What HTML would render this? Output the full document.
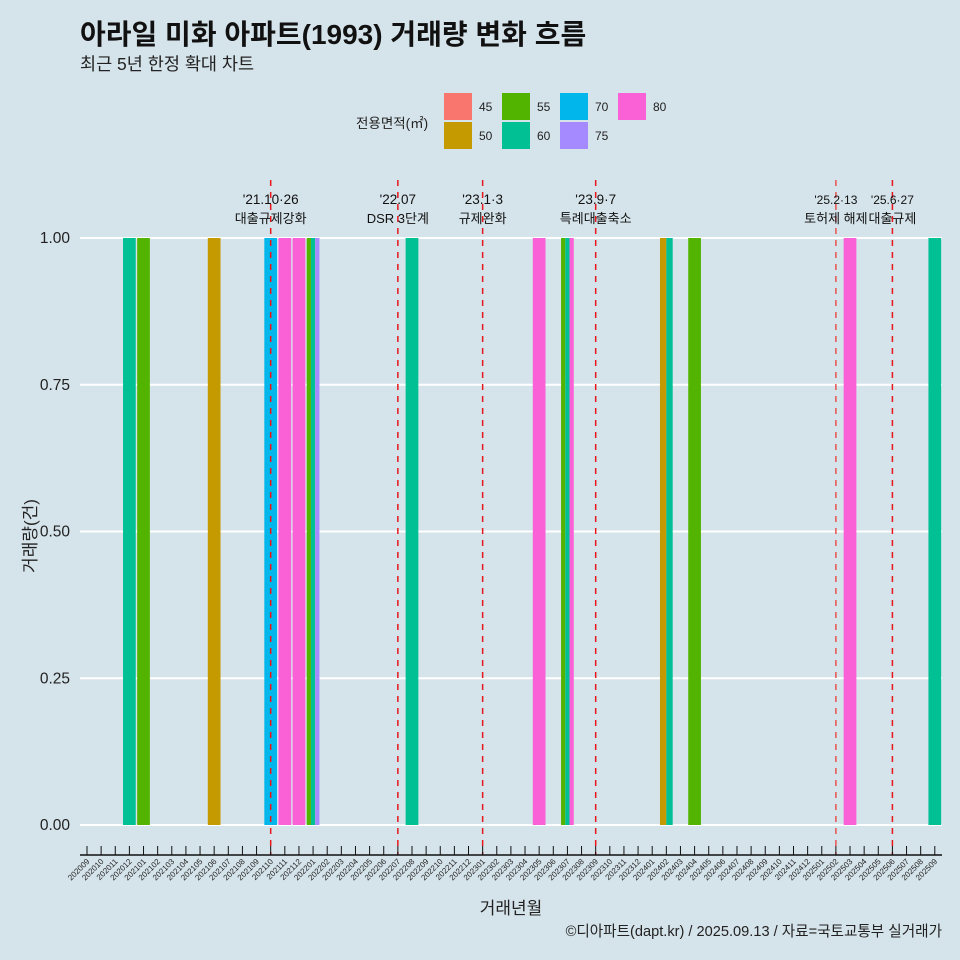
<!DOCTYPE html>
<html><head><meta charset="utf-8"><style>
body{margin:0;background:#d5e3ea;}
svg{display:block;font-family:"Liberation Sans","Noto Sans CJK KR",sans-serif;}
</style></head><body>
<svg id="c" width="960" height="960" viewBox="0 0 960 960">
<rect width="960" height="960" fill="#d5e3ea"/>
<text x="80" y="44" font-size="28" font-weight="bold" fill="#111">아라일 미화 아파트(1993) 거래량 변화 흐름</text>
<text x="80" y="70" font-size="17.5" fill="#222">최근 5년 한정 확대 차트</text>
<g id="legend">
<text x="356" y="128" font-size="13.5" fill="#222">전용면적(㎡)</text>
</g>
<g id="grid"></g><g id="bars"></g><g id="events"></g><g id="axes"></g>
<text x="36" y="536" font-size="17" fill="#222" transform="rotate(-90 36 536)" text-anchor="middle">거래량(건)</text>
<text x="511" y="914" font-size="17" fill="#222" text-anchor="middle">거래년월</text>
<text x="942" y="936" font-size="14.6" fill="#222" text-anchor="end">©디아파트(dapt.kr) / 2025.09.13 / 자료=국토교통부 실거래가</text>
</svg>
<script>
const areas=["45","50","55","60","70","75","80"];
const colors=["#F8766D","#C49A00","#53B400","#00C094","#00B6EB","#A58AFF","#FB61D7"];
const barMonths=["202012","202101","202106","202110","202111","202112","202201","202201","202201","202208","202305","202307","202307","202307","202402","202402","202404","202503","202509"];
const barAreas=["60","55","50","70","80","80","55","60","75","60","80","55","60","80","50","60","55","80","60"];
const barValues=[1,1,1,1,1,1,1,1,1,1,1,1,1,1,1,1,1,1,1];
const yTicks=[0,0.25,0.5,0.75,1];
const eventMonths=[13,22,28,36,53,57];
const eventLine1=["'21.10·26","'22.07","'23.1·3","'23.9·7","'25.2·13","'25.6·27"];
const eventLine2=["대출규제강화","DSR 3단계","규제완화","특례대출축소","토허제 해제","대출규제"];
const months=[];for(let y=2020,m=9;months.length<61;){months.push(y+String(m).padStart(2,'0'));m++;if(m>12){m=1;y++;}}
const NS="http://www.w3.org/2000/svg";
function mk(t,a,p){const e=document.createElementNS(NS,t);for(const k in a)e.setAttribute(k,a[k]);p.appendChild(e);return e;}
const step=14.13,x0=87;
const xs=i=>x0+i*step;
const ys=v=>825-v*587;
const grid=document.getElementById('grid'),bars=document.getElementById('bars'),ev=document.getElementById('events'),ax=document.getElementById('axes'),lg=document.getElementById('legend');
yTicks.forEach(t=>{
 const l=mk('line',{x1:80,x2:942,y1:ys(t),y2:ys(t),stroke:'#fff','stroke-width':2},grid);
 
 
 const tx=mk('text',{x:70,y:ys(t)+5,'font-size':15.5,'text-anchor':'end',fill:'#222'},grid);
 tx.textContent=t.toFixed(2);
 
 
});
const groups={};barMonths.forEach((m,i)=>{(groups[m]=groups[m]||[]).push(i);});
const bw=step*0.9;
Object.keys(groups).forEach(m=>{
 const idx=groups[m],n=idx.length,w=bw/n,cx=xs(months.indexOf(m));
 idx.forEach((i,j)=>{
  const r=mk('rect',{x:cx-bw/2+j*w,y:ys(barValues[i]),width:w,height:ys(0)-ys(barValues[i]),fill:colors[areas.indexOf(barAreas[i])]},bars);
  
  
 });
});
eventMonths.forEach((e,i)=>{
 const x=xs(e);
 const l=mk('line',{x1:x,x2:x,y1:180,y2:855,stroke:i==4?'#e8534f':'#e8171b','stroke-width':1.5,'stroke-dasharray':'6,6'},ev);
 
 
 const t1=mk('text',{x:x,y:204,'font-size':i>=4?12:13.5,'text-anchor':'middle',fill:'#111'},ev);t1.textContent=eventLine1[i];
 
 
 const t2=mk('text',{x:x,y:223,'font-size':13,'text-anchor':'middle',fill:'#111'},ev);t2.textContent=eventLine2[i];
 
 
});
const al=mk('line',{x1:80,x2:942,y1:855,y2:855,stroke:'#111','stroke-width':1.5},ax);


months.forEach((m,i)=>{
 const x=xs(i);
 const t=mk('line',{x1:x,x2:x,y1:846,y2:855,stroke:'#111','stroke-width':1},ax);
 
 
 const tx=mk('text',{x:x+3,y:862,'font-size':8,'text-anchor':'end',fill:'#222',transform:`rotate(-45 ${x+3} 862)`},ax);
 tx.textContent=m;
 
 
});
const lpos=[[444,93],[444,122],[502,93],[502,122],[560,93],[560,122],[618,93]];
areas.forEach((a,i)=>{
 const [x,y]=lpos[i];
 const r=mk('rect',{x:x,y:y,width:28,height:27,fill:colors[i]},lg);
 
 
 const t=mk('text',{x:x+35,y:y+18,'font-size':12,fill:'#222'},lg);t.textContent=a;
 
 
});
</script>
</body></html>
